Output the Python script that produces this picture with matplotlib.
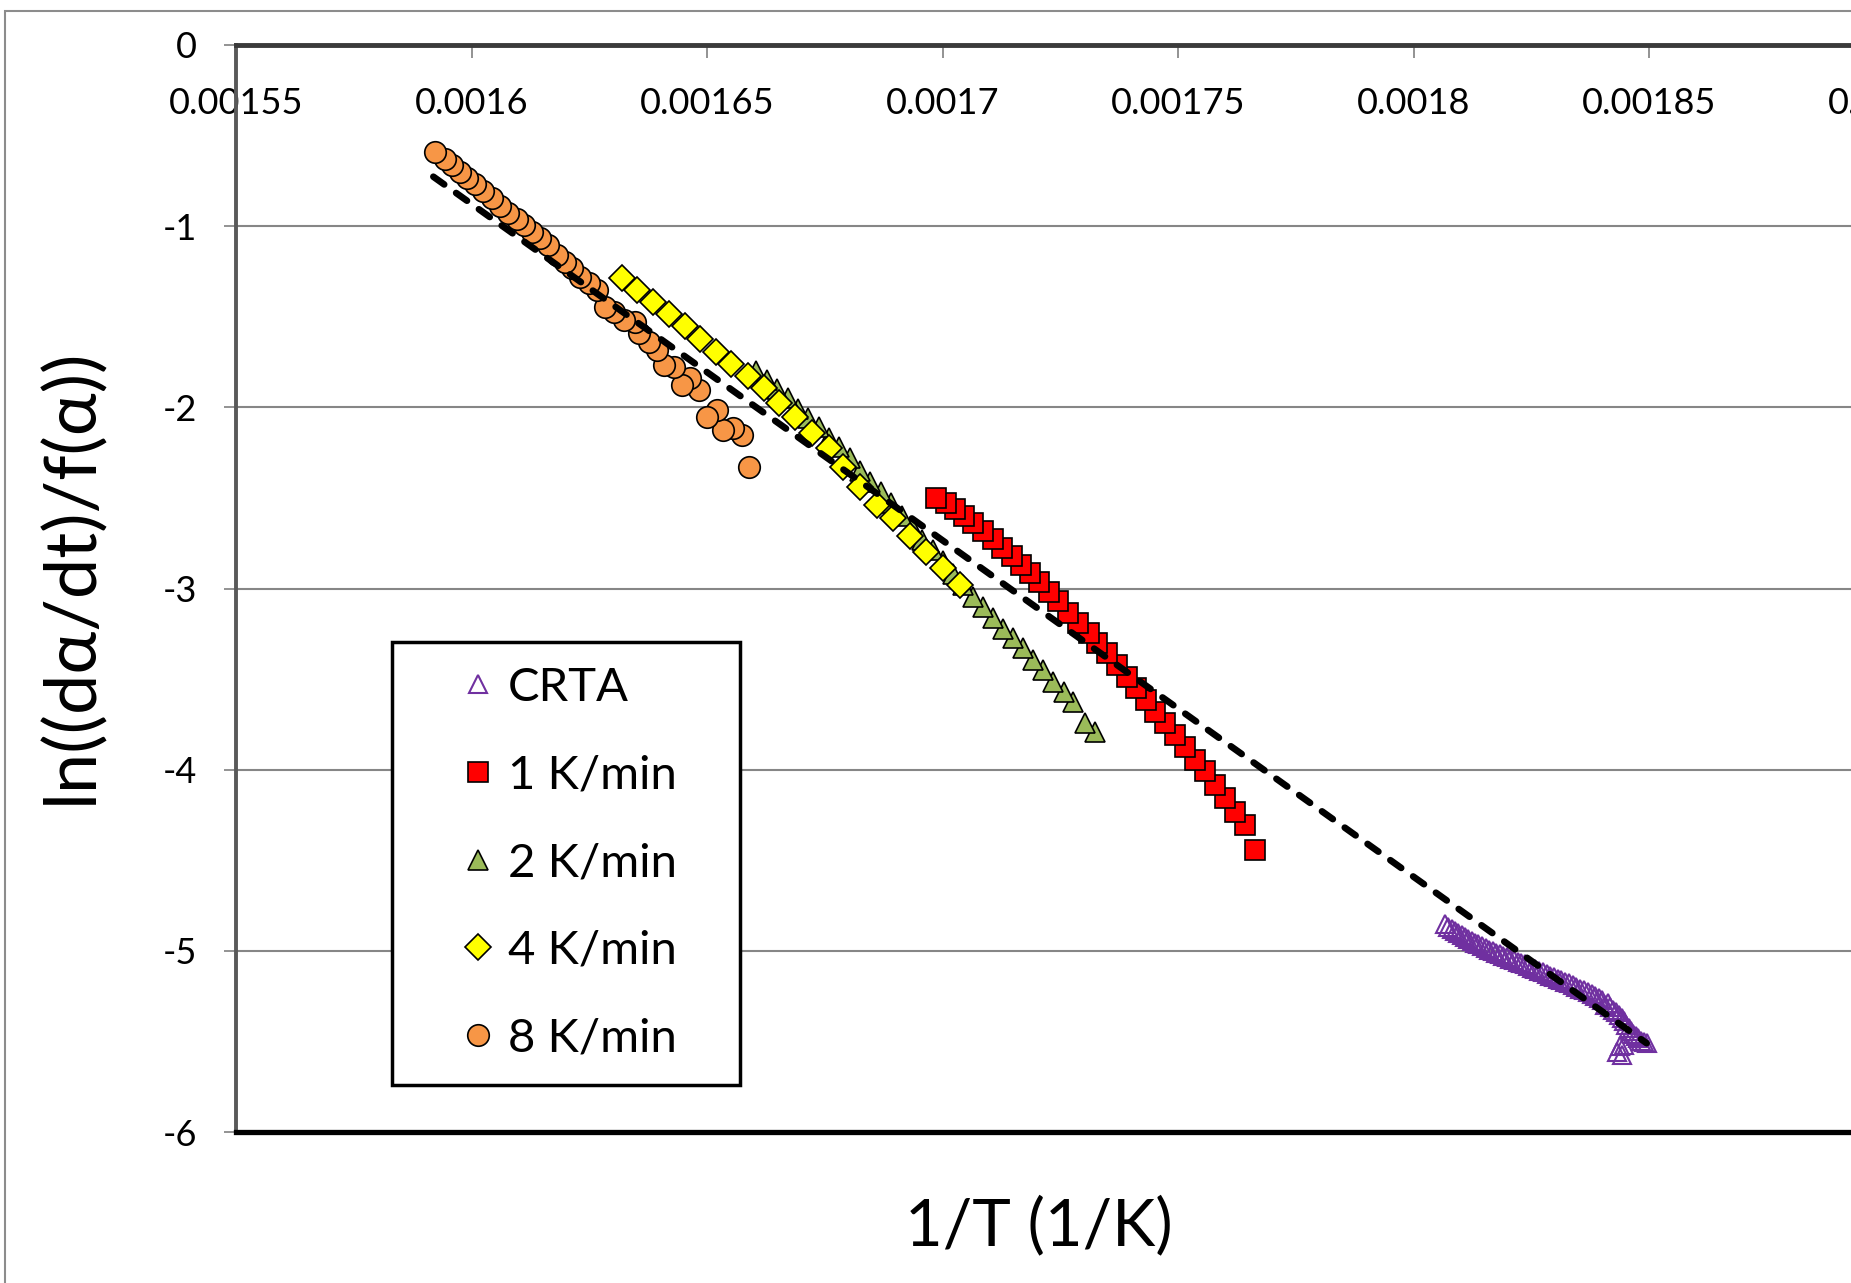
import matplotlib.pyplot as plt
from matplotlib.patches import Rectangle

plt.rcParams['font.family'] = ['Lato', 'DejaVu Sans']

# ---- data ----
x_ticks = [0.00155, 0.0016, 0.00165, 0.0017, 0.00175, 0.0018, 0.00185, 0.0019]
x_tick_labels = ['0.00155', '0.0016', '0.00165', '0.0017', '0.00175', '0.0018', '0.00185', '0.0019']
y_ticks = [0, -1, -2, -3, -4, -5, -6]
y_tick_labels = ['0', '-1', '-2', '-3', '-4', '-5', '-6']

crta_x = [0.0018067, 0.0018074, 0.0018081, 0.0018088, 0.0018095, 0.0018102, 0.0018109,
          0.0018116, 0.0018124, 0.0018131, 0.0018138, 0.0018146, 0.0018153, 0.0018160,
          0.0018168, 0.0018175, 0.0018183, 0.0018190, 0.0018198, 0.0018205, 0.0018213,
          0.0018221, 0.0018228, 0.0018236, 0.0018244, 0.0018251, 0.0018259, 0.0018267,
          0.0018275, 0.0018283, 0.0018290, 0.0018298, 0.0018306, 0.0018314, 0.0018322,
          0.0018330, 0.0018338, 0.0018346, 0.0018354, 0.0018362, 0.0018370, 0.0018378,
          0.0018386, 0.0018393, 0.0018400, 0.0018407, 0.0018412, 0.0018418, 0.0018424,
          0.0018430, 0.0018436, 0.0018442, 0.0018447, 0.0018452, 0.0018457, 0.0018462,
          0.0018467, 0.0018472, 0.0018477, 0.0018483, 0.0018490, 0.0018495, 0.0018431,
          0.0018438, 0.0018442, 0.0018447]
crta_y = [-4.850, -4.870, -4.880, -4.890, -4.900, -4.912, -4.925,
          -4.935, -4.945, -4.955, -4.963, -4.975, -4.985, -4.993,
          -5.002, -5.010, -5.020, -5.028, -5.036, -5.043, -5.050,
          -5.060, -5.068, -5.075, -5.083, -5.092, -5.101, -5.110,
          -5.118, -5.130, -5.138, -5.146, -5.154, -5.162, -5.171,
          -5.180, -5.190, -5.199, -5.208, -5.218, -5.228, -5.238,
          -5.248, -5.258, -5.270, -5.300, -5.290, -5.310, -5.325,
          -5.340, -5.355, -5.372, -5.390, -5.408, -5.425, -5.442,
          -5.458, -5.470, -5.482, -5.495, -5.505, -5.510, -5.556,
          -5.528, -5.574, -5.520]

rate1_x = [0.0016986, 0.0017007, 0.0017027, 0.0017046, 0.0017065, 0.0017087, 0.0017107,
           0.0017126, 0.0017147, 0.0017167, 0.0017186, 0.0017205, 0.0017227, 0.0017246,
           0.0017267, 0.0017288, 0.0017310, 0.0017327, 0.0017349, 0.0017370, 0.0017391,
           0.0017411, 0.0017432, 0.0017451, 0.0017472, 0.0017494, 0.0017515, 0.0017536,
           0.0017557, 0.0017579, 0.0017600, 0.0017621, 0.0017642, 0.0017664]
rate1_y = [-2.502, -2.529, -2.562, -2.598, -2.640, -2.682, -2.726,
           -2.774, -2.818, -2.870, -2.916, -2.962, -3.017, -3.068,
           -3.136, -3.191, -3.247, -3.302, -3.357, -3.422, -3.486,
           -3.550, -3.615, -3.679, -3.743, -3.808, -3.873, -3.946,
           -4.010, -4.084, -4.157, -4.231, -4.305, -4.443]

rate2_x = [0.0016605, 0.0016627, 0.0016649, 0.0016671, 0.0016693, 0.0016715, 0.0016737,
           0.0016759, 0.0016781, 0.0016803, 0.0016825, 0.0016847, 0.0016869, 0.0016891,
           0.0016913, 0.0016935, 0.0016957, 0.0016979, 0.0017001, 0.0017022, 0.0017043,
           0.0017064, 0.0017085, 0.0017107, 0.0017129, 0.0017149, 0.0017170, 0.0017193,
           0.0017214, 0.0017235, 0.0017259, 0.0017278, 0.0017303, 0.0017324]
rate2_y = [-1.80, -1.85, -1.90, -1.95, -2.01, -2.06, -2.11,
           -2.17, -2.22, -2.28, -2.35, -2.41, -2.47, -2.53,
           -2.60, -2.66, -2.73, -2.79, -2.85, -2.92, -2.98,
           -3.045, -3.100, -3.164, -3.225, -3.274, -3.330, -3.394,
           -3.449, -3.514, -3.569, -3.624, -3.743, -3.790]

rate4_x = [0.0016319, 0.0016352, 0.0016385, 0.0016420, 0.0016453, 0.0016485, 0.0016519,
           0.0016552, 0.0016586, 0.0016620, 0.0016653, 0.0016687, 0.0016722, 0.0016758,
           0.0016789, 0.0016825, 0.0016860, 0.0016894, 0.0016930, 0.0016966, 0.0017000,
           0.0017037]
rate4_y = [-1.288, -1.352, -1.417, -1.485, -1.551, -1.623, -1.692,
           -1.760, -1.827, -1.895, -1.974, -2.055, -2.139, -2.226,
           -2.327, -2.437, -2.539, -2.612, -2.710, -2.796, -2.888,
           -2.980]

rate8_x = [0.0015922, 0.0015944, 0.0015958, 0.0015976, 0.0015991, 0.0016008, 0.0016025,
           0.0016043, 0.0016061, 0.0016078, 0.0016096, 0.0016112, 0.0016128, 0.0016145,
           0.0016163, 0.0016181, 0.0016199, 0.0016213, 0.0016231, 0.0016249, 0.0016266,
           0.0016284, 0.0016302, 0.0016323, 0.0016348, 0.0016355, 0.0016376, 0.0016394,
           0.0016408, 0.0016429, 0.0016447, 0.0016464, 0.0016482, 0.0016499, 0.0016521,
           0.0016535, 0.0016556, 0.0016574, 0.0016590]
rate8_y = [-0.592, -0.631, -0.662, -0.699, -0.736, -0.767, -0.804,
           -0.846, -0.888, -0.929, -0.962, -0.993, -1.030, -1.067,
           -1.104, -1.159, -1.196, -1.232, -1.279, -1.315, -1.352,
           -1.444, -1.472, -1.518, -1.527, -1.591, -1.637, -1.683,
           -1.766, -1.775, -1.876, -1.839, -1.904, -2.051, -2.014,
           -2.125, -2.115, -2.152, -2.327]

# linear fit (dashed)
fit_x = [0.0015919, 0.0018495]
fit_y = [-0.727, -5.510]

# ---- figure ----
W, H = 1851, 1283
fig = plt.figure(figsize=(W / 100, H / 100), dpi=100)
ax = fig.add_axes([236 / W, (H - 1132) / H, 1648.5 / W, 1087 / H])

edge = dict(ls='none', mec='black', mew=1.2)
# points drawn from high 1/T to low 1/T, so the first ones sit on top
h_crta, = ax.plot(crta_x[::-1], crta_y[::-1], marker='^', ms=13, ls='none',
                  mfc='none', mec='#7030A0', mew=1.5, label='CRTA')
h1, = ax.plot(rate1_x[::-1], rate1_y[::-1], marker='s', ms=14, mfc='#FF0000',
              label='1 K/min', **edge)
h2, = ax.plot(rate2_x[::-1], rate2_y[::-1], marker='^', ms=14.5, mfc='#9BBB59',
              label='2 K/min', **edge)
h4, = ax.plot(rate4_x[::-1], rate4_y[::-1], marker='D', ms=13, mfc='#FFFF00',
              label='4 K/min', **edge)
h8, = ax.plot(rate8_x[::-1], rate8_y[::-1], marker='o', ms=15.5, mfc='#F79646',
              label='8 K/min', **edge)
ax.plot(fit_x, fit_y, color='black', lw=4.8, ls=(0, (2.0, 2.2)),
        dash_capstyle='round', zorder=5)

ax.set_xlim(0.00155, 0.0019)
ax.set_ylim(-6, 0)

ax.set_xticks(x_ticks)
ax.set_xticklabels(x_tick_labels)
ax.xaxis.tick_top()
ax.tick_params(axis='x', direction='in', length=9, width=1.2, color='#808080',
               labelsize=26, pad=-54)
ax.set_yticks(y_ticks)
ax.set_yticklabels(y_tick_labels)
ax.tick_params(axis='y', direction='out', length=9, width=1.2, color='#808080',
               labelsize=26, pad=19)

ax.yaxis.grid(True, color='#868686', lw=1.5)
ax.xaxis.grid(False)
ax.set_axisbelow(True)

ax.spines['top'].set_color('#3a3a3a')
ax.spines['top'].set_linewidth(3.5)
ax.spines['left'].set_color('#595959')
ax.spines['left'].set_linewidth(2.8)
ax.spines['bottom'].set_color('black')
ax.spines['bottom'].set_linewidth(3.8)
ax.spines['right'].set_visible(False)

ax.set_xlabel('1/T (1/K)', fontsize=47, va='center')
ax.xaxis.set_label_position('bottom')
ax.xaxis.set_label_coords(0.487, -0.058)
ax.set_ylabel('ln((dα/dt)/f(α))', fontsize=52, va='center')
ax.yaxis.set_label_coords(-0.100, 0.512)

leg = ax.legend(handles=[h_crta, h1, h2, h4, h8], loc='upper left',
                bbox_to_anchor=(0.0946, 0.0497, 0.2111, 0.4011), mode='expand',
                borderaxespad=0, fontsize=34, frameon=True, fancybox=False,
                edgecolor='black', framealpha=1, borderpad=0.53,
                labelspacing=0.966, handlelength=2.59, handletextpad=-0.66,
                numpoints=1)
leg.get_frame().set_linewidth(2.5)

# outer chart border (partly cut off at the right and bottom)
fig.add_artist(Rectangle((5 / W, -0.05), 1.5, 1 - 11 / H + 0.05,
                         transform=fig.transFigure, fill=False,
                         edgecolor='#8c8c8c', lw=1.5))

fig.savefig('out.png', dpi=100)
